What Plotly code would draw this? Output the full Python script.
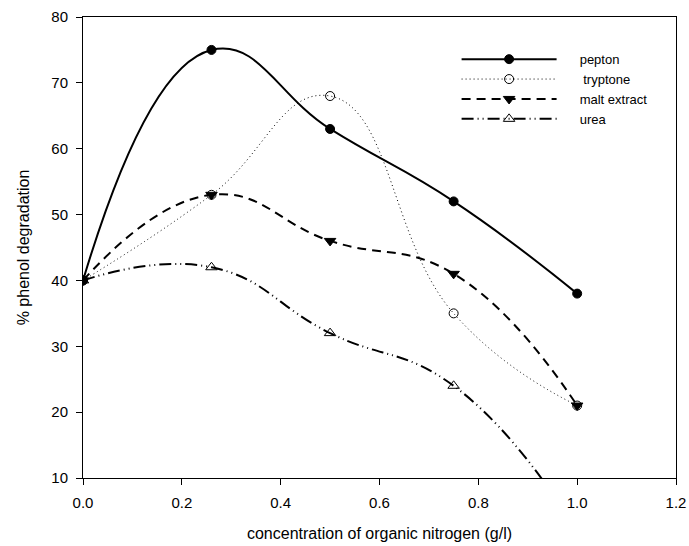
import plotly.graph_objects as go

x_conc = [0.0, 0.26, 0.5, 0.75, 1.0]
pepton = [40, 75, 63, 52, 38]
tryptone = [40, 53, 68, 35, 21]
malt_extract = [40, 53, 46, 41, 21]
urea = [40, 42, 32, 24, 2]

x_ticks = [0.0, 0.2, 0.4, 0.6, 0.8, 1.0, 1.2]
y_ticks = [10, 20, 30, 40, 50, 60, 70, 80]

fig = go.Figure()

fig.add_trace(go.Scatter(
    x=x_conc, y=pepton, name="     pepton", mode="lines+markers",
    line=dict(color="black", width=2, shape="spline", smoothing=1.3),
    marker=dict(symbol="circle", size=9, color="black", line=dict(color="black", width=1)),
))
fig.add_trace(go.Scatter(
    x=x_conc, y=tryptone, name="      tryptone", mode="lines+markers",
    line=dict(color="black", width=1, shape="spline", smoothing=1.3, dash="1px,3px"),
    marker=dict(symbol="circle-open", size=9, color="black", line=dict(color="black", width=1)),
))
fig.add_trace(go.Scatter(
    x=x_conc, y=malt_extract, name="     malt extract", mode="lines+markers",
    line=dict(color="black", width=2, shape="spline", smoothing=1.3, dash="9px,6px"),
    marker=dict(symbol="triangle-down", size=10, color="black", line=dict(color="black", width=1)),
))
fig.add_trace(go.Scatter(
    x=x_conc, y=urea, name="     urea", mode="lines+markers",
    line=dict(color="black", width=2, shape="spline", smoothing=1.3, dash="12px,4px,1px,4px,1px,4px"),
    marker=dict(symbol="triangle-up-open", size=10, color="black", line=dict(color="black", width=1)),
))

fig.update_layout(
    width=689, height=546,
    margin=dict(l=83, r=13, t=17, b=68),
    paper_bgcolor="white", plot_bgcolor="white",
    font=dict(family="Liberation Sans, Arial, sans-serif", size=15, color="black"),
    showlegend=True,
    legend=dict(
        x=0.63, y=0.941, xanchor="left", yanchor="top",
        bgcolor="rgba(0,0,0,0)", borderwidth=0,
        font=dict(size=13), itemwidth=95, tracegroupgap=0,
    ),
    xaxis=dict(
        range=[0, 1.2], tickvals=x_ticks, tickformat=".1f",
        ticks="outside", ticklen=6, tickcolor="black", tickfont=dict(size=15),
        ticklabelstandoff=5,
        showline=True, linecolor="black", linewidth=1, mirror=True,
        showgrid=False, zeroline=False, automargin=False,
        title=dict(text="concentration of organic nitrogen (g/l)", font=dict(size=16), standoff=17),
    ),
    yaxis=dict(
        range=[10, 80], tickvals=y_ticks,
        ticks="outside", ticklen=6, tickcolor="black", tickfont=dict(size=15),
        ticklabelstandoff=5,
        showline=True, linecolor="black", linewidth=1, mirror=True,
        showgrid=False, zeroline=False, automargin=False,
        title=dict(text="% phenol degradation", font=dict(size=16), standoff=17),
    ),
)

fig.write_html(
    "out.html",
    config={"displayModeBar": False},
    post_script="document.body.style.margin='0';document.body.style.overflow='hidden';",
)
